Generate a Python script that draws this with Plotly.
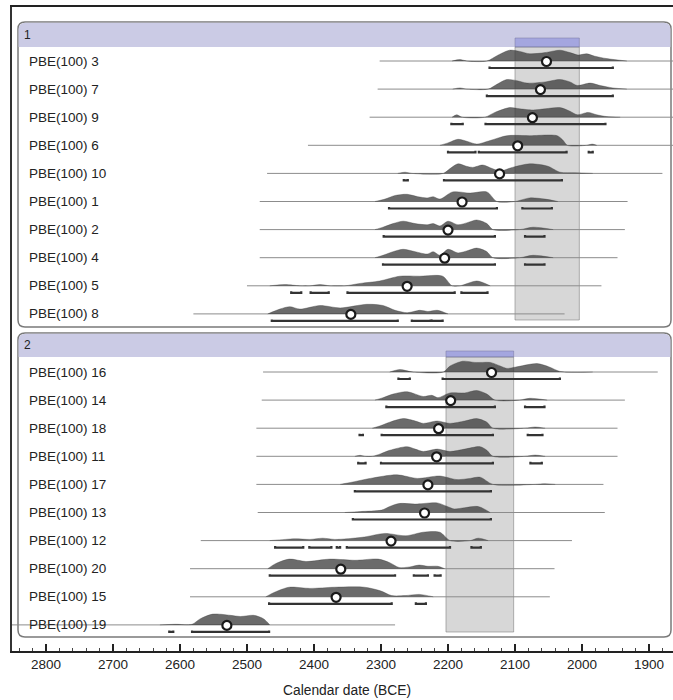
import plotly.graph_objects as go

# ---------------- data ----------------
group1_labels = ["PBE(100) 3", "PBE(100) 7", "PBE(100) 9", "PBE(100) 6", "PBE(100) 10",
                 "PBE(100) 1", "PBE(100) 2", "PBE(100) 4", "PBE(100) 5", "PBE(100) 8"]
group2_labels = ["PBE(100) 16", "PBE(100) 14", "PBE(100) 18", "PBE(100) 11", "PBE(100) 17",
                 "PBE(100) 13", "PBE(100) 12", "PBE(100) 20", "PBE(100) 15", "PBE(100) 19"]
group_names = ["1", "2"]

# mean (circle) per row, group1 then group2 (BCE)
mean_dates = [2053, 2062, 2074, 2096, 2123, 2179, 2200, 2205, 2261, 2345,
              2135, 2196, 2214, 2217, 2230, 2235, 2285, 2360, 2367, 2530]

# thin line extent per row
line_start = [2302, 2305, 2317, 2409, 2470, 2481, 2481, 2481, 2500, 2580,
              2476, 2478, 2486, 2486, 2486, 2484, 2569, 2585, 2585, 2870]
line_end = [1855, 1855, 1855, 1855, 1880, 1932, 1936, 1947, 1971, 2026,
            1887, 1936, 1947, 1947, 1968, 1966, 2015, 2041, 2048, 2279]

# 95% ranges per row
ranges = [
    [(2138, 1954)],
    [(2142, 1954)],
    [(2195, 2178), (2144, 1965)],
    [(2200, 2159), (2154, 2023), (1990, 1984)],
    [(2266, 2260), (2206, 2030)],
    [(2288, 2127), (2089, 2045)],
    [(2296, 2130), (2085, 2056)],
    [(2297, 2130), (2085, 2056)],
    [(2434, 2419), (2405, 2378), (2350, 2190), (2180, 2141)],
    [(2463, 2275), (2254, 2226), (2224, 2208)],
    [(2274, 2257), (2208, 2033)],
    [(2292, 2130), (2085, 2056)],
    [(2332, 2327), (2299, 2133), (2081, 2059)],
    [(2334, 2323), (2300, 2133), (2077, 2060)],
    [(2339, 2136)],
    [(2342, 2136)],
    [(2458, 2416), (2407, 2374), (2366, 2361), (2351, 2197), (2165, 2151)],
    [(2466, 2279), (2251, 2230), (2220, 2211)],
    [(2467, 2284), (2248, 2233)],
    [(2616, 2610), (2582, 2467)],
]

# probability distributions: dates and relative heights
dist_dates = [
    [2194, 2182, 2172, 2142, 2125, 2108, 2093, 2078, 2055, 2033, 2018, 2006, 1993, 1981, 1963, 1933],
    [2193, 2182, 2172, 2140, 2127, 2112, 2097, 2082, 2055, 2033, 2018, 2007, 1988, 1973, 1954, 1933],
    [2194, 2187, 2179, 2145, 2130, 2108, 2093, 2073, 2055, 2033, 2018, 2007, 1991, 1978, 1963, 1943],
    [2212, 2200, 2185, 2170, 2157, 2137, 2112, 2078, 2037, 2028, 2022, 1993, 1985, 1978],
    [2275, 2264, 2254, 2207, 2197, 2185, 2173, 2163, 2148, 2134, 2122, 2104, 2078, 2051, 2033, 2010, 1984],
    [2309, 2294, 2279, 2261, 2245, 2231, 2222, 2212, 2193, 2167, 2142, 2127, 2100, 2078, 2055, 2036],
    [2309, 2297, 2282, 2267, 2249, 2231, 2222, 2212, 2200, 2185, 2170, 2157, 2142, 2133, 2093, 2073, 2043],
    [2309, 2297, 2282, 2267, 2249, 2231, 2222, 2212, 2200, 2185, 2170, 2157, 2142, 2133, 2093, 2073, 2043],
    [2466, 2443, 2421, 2406, 2391, 2376, 2354, 2331, 2302, 2272, 2242, 2208, 2194, 2182, 2157, 2137],
    [2469, 2451, 2436, 2421, 2391, 2361, 2321, 2297, 2279, 2261, 2242, 2230, 2216, 2200],
    [2287, 2272, 2252, 2207, 2197, 2178, 2160, 2148, 2137, 2122, 2112, 2100, 2067, 2048, 2033, 1984],
    [2309, 2297, 2282, 2261, 2237, 2224, 2215, 2197, 2175, 2157, 2142, 2130, 2093, 2078, 2052],
    [2313, 2301, 2287, 2267, 2249, 2237, 2216, 2197, 2175, 2157, 2142, 2133, 2085, 2070, 2055],
    [2339, 2331, 2324, 2313, 2301, 2287, 2261, 2249, 2237, 2216, 2197, 2175, 2152, 2142, 2133, 2085, 2070, 2055],
    [2361, 2342, 2316, 2276, 2246, 2212, 2187, 2167, 2152, 2133, 2070, 2055, 2040],
    [2354, 2331, 2299, 2287, 2273, 2249, 2216, 2201, 2191, 2175, 2155, 2137],
    [2466, 2443, 2428, 2406, 2387, 2369, 2351, 2325, 2294, 2263, 2237, 2212, 2197, 2167, 2155, 2140],
    [2469, 2458, 2437, 2412, 2376, 2339, 2304, 2287, 2273, 2257, 2243, 2230, 2215, 2205],
    [2472, 2458, 2437, 2406, 2369, 2325, 2301, 2284, 2264, 2243, 2222],
    [2630, 2607, 2582, 2570, 2551, 2525, 2510, 2490, 2475, 2466],
]
dist_heights = [
    [0, 1.2, 0, 0, 5, 9, 8, 6, 7, 9, 7, 5, 6, 4, 2, 0],
    [0, 1, 0, 0, 4, 8, 7, 5, 6, 8, 6, 3, 5, 3, 1, 0],
    [0, 2, 0, 0, 4, 8, 7, 6, 7, 8, 5, 2, 4, 2, 0.5, 0],
    [0, 2, 5, 3, 1, 4, 8, 8, 8, 4, 0, 0, 1, 0],
    [0, 1, 0, 0, 4, 8, 6, 5, 7, 4, 2, 5, 8, 6, 1, 0.5, 0],
    [0, 2, 5, 6, 4, 3, 4, 2, 8, 7, 8, 0, 0, 3, 2, 0],
    [0, 2, 5, 7, 5, 4, 5, 3, 7, 4, 6, 8, 5, 0, 0, 2, 0],
    [0, 2, 5, 7, 5, 3, 5, 2, 7, 4, 6, 8, 5, 0, 0, 2, 0],
    [0, 1, 0, 0, 1, 0, 0, 2, 4, 8, 8, 8, 0, 0, 4, 0],
    [0, 4, 6, 4, 7, 5, 8, 7, 3, 1, 3, 2, 3, 0],
    [0, 2, 0, 0, 5, 9, 8, 8, 8, 5, 3, 4, 7, 4, 0.5, 0],
    [0, 2, 5, 7, 3, 4, 2, 6, 6, 8, 5, 0, 0, 1.5, 0],
    [0, 2, 5, 8, 6, 4, 6, 4, 6, 8, 5, 0, 0, 1, 0],
    [0, 0.8, 0, 0, 2, 5, 8, 6, 4, 6, 4, 6, 8, 5, 0, 0, 1, 0],
    [0, 2, 5, 8, 5, 7, 4, 5, 6, 0, 0, 0.5, 0],
    [0, 0.8, 2, 5, 7.5, 7, 8, 5, 3, 4, 5, 0],
    [0, 1, 1.5, 1, 2, 1, 1.5, 3, 6, 4, 7, 7, 0, 0, 2, 0],
    [0, 4, 8, 6, 8, 7, 8, 5, 1, 1.5, 3, 2, 2, 0],
    [0, 4, 8, 7, 8, 8, 5, 1, 1, 2, 0],
    [0, 0.5, 0.5, 5, 9, 8, 7, 8, 5, 0],
]

# highlighted intervals per group (BCE)
highlight_start = [2100, 2203]
highlight_end = [2004, 2102]

x_ticks = list(range(1900, 2801, 100))

# ---------------- layout helpers ----------------
W, H = 673, 700
ML, MR, MT, MB = 12, 0, 7, 49
PW = W - ML - MR
X_MIN, X_MAX = 2850.7, 1864.2
ROW_STEP = 28.1
HEIGHT_SCALE = 1.2
group_first_row_y = [61, 372]
panel_top = [22, 333]
panel_bottom = [327, 637]
header_bottom = [47, 357]
hl_top = [38, 351]
hl_bottom = [320, 632]
PANEL_X0, PANEL_X1 = 18, 671
FONT = "Liberation Sans, Arial"


def px_paper(x):
    return (x - ML) / PW


labels = group1_labels + group2_labels
row_y = []
for g, lab in enumerate([group1_labels, group2_labels]):
    for i in range(len(lab)):
        row_y.append(group_first_row_y[g] + i * ROW_STEP)

fig = go.Figure()
shapes = []
annotations = []


def rounded_path(x0, x1, y0, y1, r=7, top_only=False):
    rx = r / PW
    ry = r
    if top_only:
        return (f"M {x0},{y1} L {x0},{y0+ry} Q {x0},{y0} {x0+rx},{y0} "
                f"L {x1-rx},{y0} Q {x1},{y0} {x1},{y0+ry} L {x1},{y1} Z")
    return (f"M {x0+rx},{y0} L {x1-rx},{y0} Q {x1},{y0} {x1},{y0+ry} "
            f"L {x1},{y1-ry} Q {x1},{y1} {x1-rx},{y1} L {x0+rx},{y1} "
            f"Q {x0},{y1} {x0},{y1-ry} L {x0},{y0+ry} Q {x0},{y0} {x0+rx},{y0} Z")


for g in range(2):
    x0, x1 = px_paper(PANEL_X0), px_paper(PANEL_X1)
    shapes.append(dict(type="path", xref="paper", yref="y", layer="below",
                       path=rounded_path(x0, x1, panel_top[g], panel_bottom[g]),
                       fillcolor="white", line=dict(color="#7a7a7a", width=1.5)))
    shapes.append(dict(type="path", xref="paper", yref="y", layer="below",
                       path=rounded_path(x0 + 0.6 / PW, x1 - 0.6 / PW, panel_top[g] + 0.8,
                                         header_bottom[g], top_only=True),
                       fillcolor="#cbcbe5", line=dict(width=0)))
    shapes.append(dict(type="rect", xref="x", yref="y", layer="below",
                       x0=highlight_start[g], x1=highlight_end[g],
                       y0=header_bottom[g], y1=hl_bottom[g],
                       fillcolor="rgba(150,150,150,0.38)",
                       line=dict(color="rgba(120,120,120,0.55)", width=1)))
    shapes.append(dict(type="rect", xref="x", yref="y", layer="below",
                       x0=highlight_start[g], x1=highlight_end[g],
                       y0=hl_top[g], y1=header_bottom[g],
                       fillcolor="rgba(110,115,215,0.42)",
                       line=dict(color="rgba(120,120,160,0.5)", width=1)))
    annotations.append(dict(text=group_names[g], xref="paper", yref="y",
                            x=px_paper(22), y=(panel_top[g] + header_bottom[g]) / 2,
                            xanchor="left", yanchor="middle", showarrow=False,
                            font=dict(size=12, color="#222", family=FONT)))

# thin lines
lx, ly = [], []
for i in range(len(labels)):
    lx += [line_start[i], line_end[i], None]
    ly += [row_y[i], row_y[i], None]
fig.add_trace(go.Scatter(x=lx, y=ly, mode="lines", line=dict(color="#8c8c8c", width=1),
                         hoverinfo="skip", showlegend=False))

# distributions
for i in range(len(labels)):
    ys = [row_y[i] - h * HEIGHT_SCALE for h in dist_heights[i]]
    fig.add_trace(go.Scatter(x=dist_dates[i], y=ys, mode="lines", fill="toself",
                             fillcolor="rgba(50,50,50,0.72)",
                             line=dict(color="rgba(60,60,60,0.6)", width=0.6,
                                       shape="spline", smoothing=0.8),
                             hoverinfo="skip", showlegend=False))

# ranges
bx, by = [], []
for i in range(len(labels)):
    yb = row_y[i] + 7
    for a, b in ranges[i]:
        bx += [a, a, b, b, None]
        by += [yb - 1.5, yb, yb, yb - 1.5, None]
fig.add_trace(go.Scatter(x=bx, y=by, mode="lines", line=dict(color="#333", width=2.2),
                         hoverinfo="skip", showlegend=False))

# means
fig.add_trace(go.Scatter(x=mean_dates, y=[y + 0.5 for y in row_y], mode="markers",
                         marker=dict(size=9, color="white", line=dict(color="#1a1a1a", width=2.2)),
                         hoverinfo="skip", showlegend=False))

# row labels
for i, lab in enumerate(labels):
    annotations.append(dict(text=lab, xref="paper", yref="y", x=px_paper(27), y=row_y[i],
                            xanchor="left", yanchor="middle", showarrow=False,
                            font=dict(size=13.5, color="#222", family=FONT)))

annotations.append(dict(text="Calendar date (BCE)", xref="paper", yref="paper",
                        x=px_paper(347), y=(651 - 690) / (H - MT - MB),
                        xanchor="center", yanchor="middle", showarrow=False,
                        font=dict(size=13.8, color="#222", family=FONT)))

fig.update_layout(
    width=W, height=H,
    margin=dict(l=ML, r=MR, t=MT, b=MB, pad=0),
    paper_bgcolor="white", plot_bgcolor="white",
    shapes=shapes, annotations=annotations,
    xaxis=dict(range=[X_MIN, X_MAX], tickmode="array", tickvals=x_ticks,
               ticktext=[str(t) for t in x_ticks],
               ticks="inside", ticklen=7, tickwidth=1.5, tickcolor="#222",
               minor=dict(dtick=20, tick0=0, ticks="inside", ticklen=3, tickwidth=1, tickcolor="#444"),
               showline=True, linecolor="#222", linewidth=1.5, mirror=True,
               showgrid=False, zeroline=False,
               tickfont=dict(size=13.5, color="#222", family=FONT)),
    yaxis=dict(range=[651, 7], showline=True, linecolor="#333", linewidth=1.5,
               showticklabels=False, ticks="", showgrid=False, zeroline=False),
)

fig.write_html("out.html")
